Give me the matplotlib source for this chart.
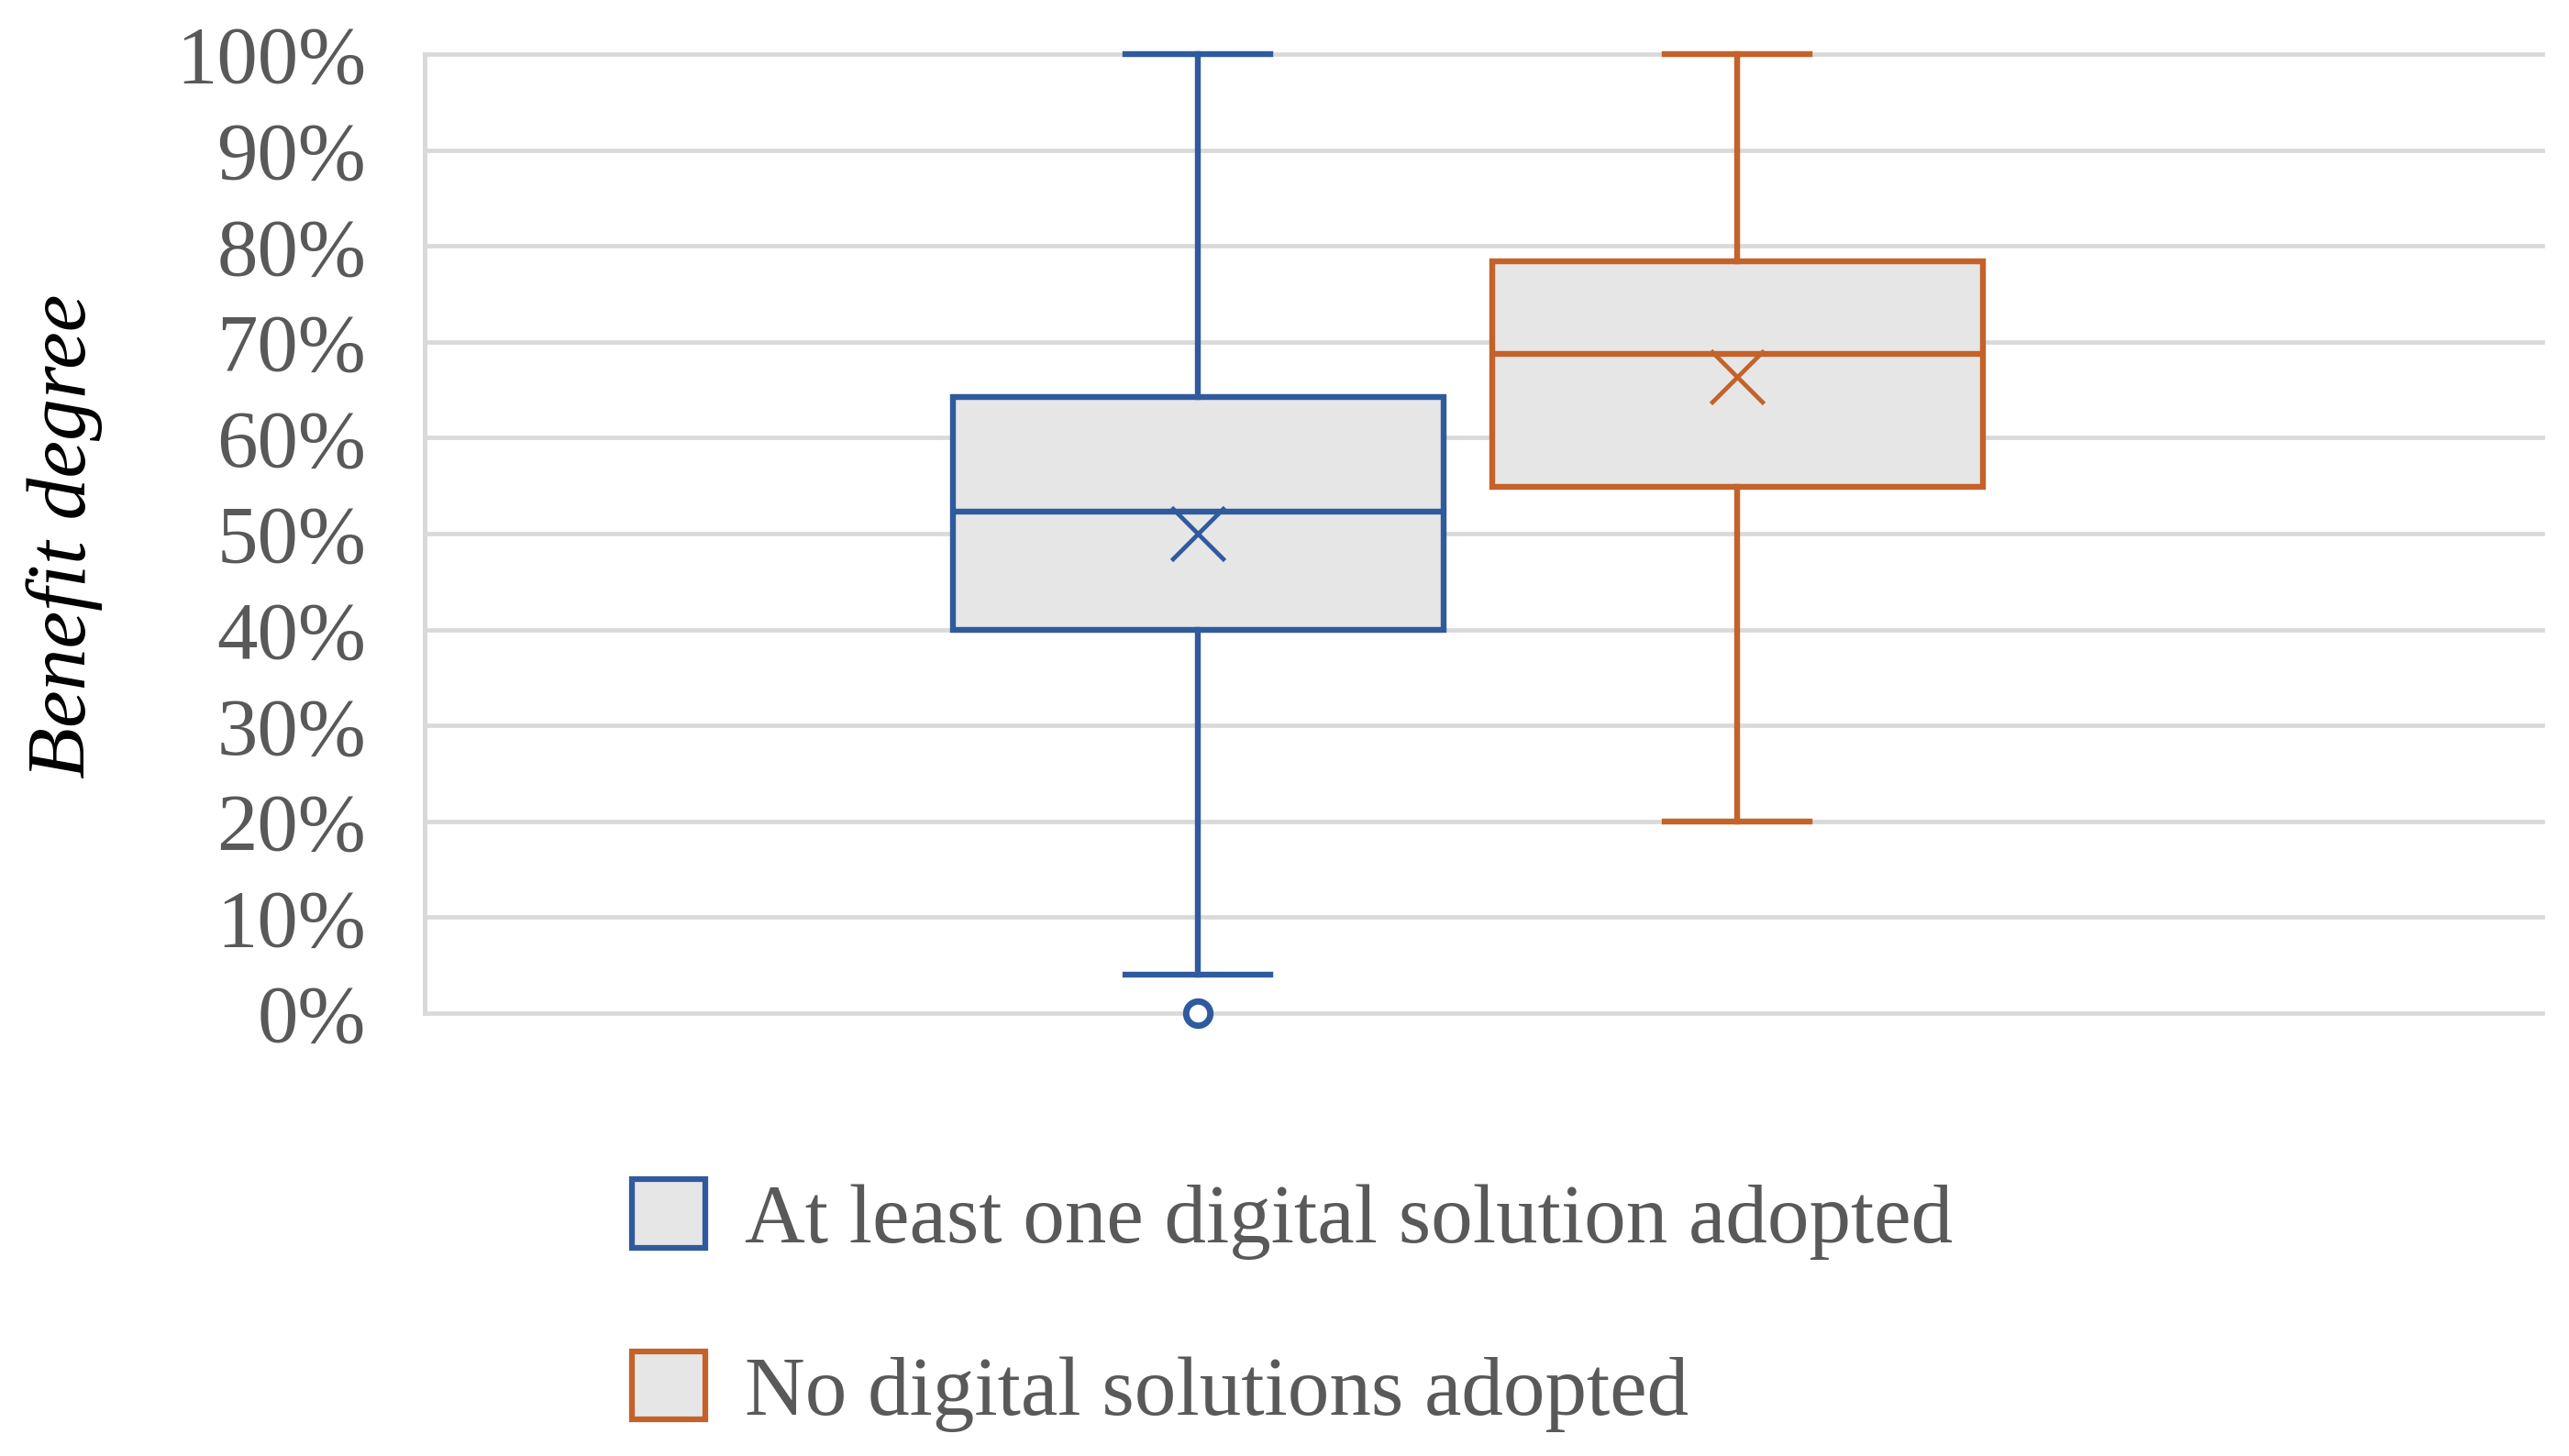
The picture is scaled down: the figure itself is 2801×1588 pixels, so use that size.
import matplotlib
matplotlib.use("Agg")
import matplotlib.pyplot as plt
from matplotlib.patches import Patch
from matplotlib.ticker import PercentFormatter

# series (fractions of 1)
labels = ["At least one digital solution adopted", "No digital solutions adopted"]
colors = ["#2F5A9E", "#C4622A"]
q1 = [0.40, 0.549]
median = [0.523, 0.687]
q3 = [0.642, 0.784]
mean = [0.500, 0.663]
whis_low = [0.04, 0.20]
whis_high = [1.00, 1.00]
outliers = [[0.0], []]

ticks = [i / 10 for i in range(11)]

fill = "#E6E6E6"
grid_col = "#D9D9D9"
text_col = "#595959"

plt.rcParams["font.family"] = ["Liberation Serif", "DejaVu Serif"]

fig = plt.figure(figsize=(28.01, 15.88), dpi=100)
ax = fig.add_axes([0.1653, 0.3042, 0.8243, 0.6587])

stats = []
for i in range(len(labels)):
    stats.append({
        "label": labels[i],
        "q1": q1[i], "med": median[i], "q3": q3[i], "mean": mean[i],
        "whislo": whis_low[i], "whishi": whis_high[i], "fliers": outliers[i],
    })

positions = [1, 2]
for i, st in enumerate(stats):
    c = colors[i]
    ax.bxp([st], positions=[positions[i]], widths=0.91, capwidths=0.27,
           patch_artist=True, showmeans=True, manage_ticks=False,
           boxprops=dict(facecolor=fill, edgecolor=c, linewidth=4.6),
           medianprops=dict(color=c, linewidth=4.6),
           whiskerprops=dict(color=c, linewidth=4.6),
           capprops=dict(color=c, linewidth=4.6),
           meanprops=dict(marker="x", markersize=42, markeredgewidth=3.4,
                          markeredgecolor=c, color=c),
           flierprops=dict(marker="o", markersize=19, markerfacecolor="white",
                           markeredgecolor=c, markeredgewidth=5))

for art in ax.lines + ax.patches:
    art.set_clip_on(False)
    art.set_zorder(3)

ax.set_xlim(-0.434, 3.493)
ax.set_ylim(0, 1)
ax.set_yticks(ticks)
ax.yaxis.set_major_formatter(PercentFormatter(1.0, decimals=0))
ax.set_xticks([])
ax.tick_params(axis="y", length=0, pad=46, labelsize=64, labelcolor=text_col)
ax.grid(axis="y", color=grid_col, linewidth=3.4, zorder=0)
ax.set_axisbelow(True)
for gl in ax.get_ygridlines():
    gl.set_clip_on(False)

for s in ["top", "right", "bottom"]:
    ax.spines[s].set_visible(False)
ax.spines["left"].set_color(grid_col)
ax.spines["left"].set_linewidth(3.6)

fig.text(70 / 2801, 1 - 585 / 1588, "Benefit degree", rotation=90,
         ha="center", va="center", fontsize=66, style="italic", color="black")

handles = [Patch(facecolor=fill, edgecolor=colors[i], linewidth=4.5, label=labels[i])
           for i in range(len(labels))]
fig.legend(handles=handles, loc="center left", bbox_to_anchor=(689 / 2801, 1 - 1424 / 1588),
           frameon=False, fontsize=65.5, labelcolor=text_col, handlelength=0.88,
           handleheight=0.88, handletextpad=0.47, labelspacing=1.1, borderpad=0,
           borderaxespad=0)

fig.savefig("out.png", dpi=100)
